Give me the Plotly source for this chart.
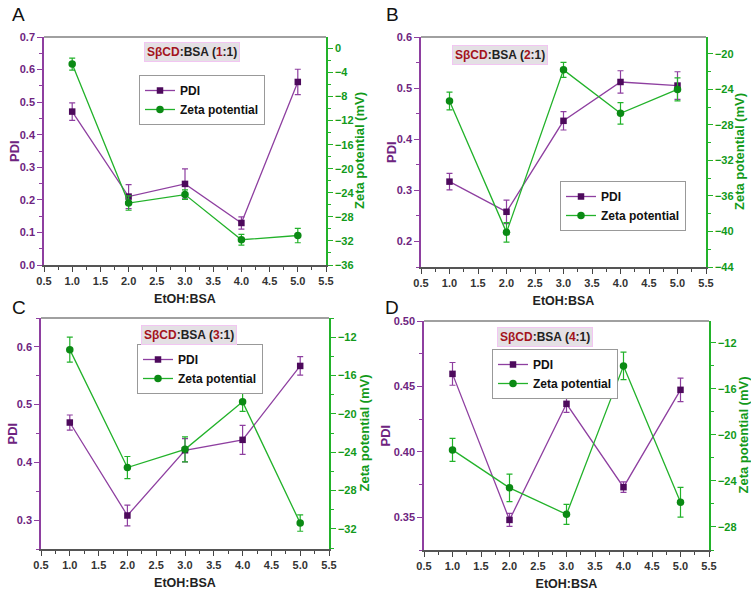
import plotly.graph_objects as go

W, H = 751, 591

x_vals = [1.0, 2.0, 3.0, 4.0, 5.0]

# Panel A  (SβCD:BSA 1:1)
pdi_A = [0.471, 0.210, 0.249, 0.129, 0.562]
pdi_err_A = [0.027, 0.037, 0.046, 0.019, 0.039]
zeta_A = [-2.6, -25.7, -24.3, -31.8, -31.1]
zeta_err_A = [1.0, 1.2, 0.8, 0.9, 1.2]

# Panel B  (SβCD:BSA 2:1)
pdi_B = [0.317, 0.258, 0.436, 0.512, 0.505]
pdi_err_B = [0.016, 0.023, 0.018, 0.022, 0.027]
zeta_B = [-25.3, -40.1, -21.8, -26.7, -24.0]
zeta_err_B = [1.0, 1.1, 0.85, 1.2, 1.3]

# Panel C  (SβCD:BSA 3:1)
pdi_C = [0.469, 0.308, 0.421, 0.439, 0.567]
pdi_err_C = [0.013, 0.018, 0.020, 0.025, 0.016]
zeta_C = [-13.3, -25.6, -23.7, -18.75, -31.4]
zeta_err_C = [1.3, 1.15, 1.3, 1.0, 0.85]

# Panel D  (SβCD:BSA 4:1)
pdi_D = [0.4596, 0.348, 0.4367, 0.373, 0.4474]
pdi_err_D = [0.0087, 0.005, 0.0066, 0.004, 0.009]
zeta_D = [-21.3, -24.6, -26.9, -14.0, -25.85]
zeta_err_D = [1.0, 1.2, 0.87, 1.2, 1.3]

panel_letters = ["A", "B", "C", "D"]
ratios = ["1", "2", "3", "4"]
x_ticks = [0.5, 1.0, 1.5, 2.0, 2.5, 3.0, 3.5, 4.0, 4.5, 5.0, 5.5]

PURPLE_LINE = "#8E3FA0"
PURPLE_MK = "#4D0A5C"
PURPLE_TXT = "#6E2480"
GREEN_LINE = "#22B22A"
GREEN_MK = "#0B8A14"
GREEN_TXT = "#129A1A"
FONT = "Liberation Sans"

# pixel boxes of the plot areas: (x0, x1, y0_top, y1_bottom)
boxes = [(44, 326, 37, 265), (421, 706, 37, 267), (41, 329, 318, 549), (424, 709, 321, 550)]
left_ranges = [[0.0, 0.7], [0.15, 0.6], [0.25, 0.65], [0.325, 0.50]]
left_dtick = [0.1, 0.1, 0.1, 0.05]
left_fmt = [".1f", ".1f", ".1f", ".2f"]
right_ranges = [[-36, 1.9], [-44, -18.1], [-34.1, -10.0], [-30.0, -10.1]]
right_tick0 = [0, -20, -12, -12]

pdi_all = [pdi_A, pdi_B, pdi_C, pdi_D]
pdi_err_all = [pdi_err_A, pdi_err_B, pdi_err_C, pdi_err_D]
zeta_all = [zeta_A, zeta_B, zeta_C, zeta_D]
zeta_err_all = [zeta_err_A, zeta_err_B, zeta_err_C, zeta_err_D]

# title box centres, legend top-left corners, y-title x centres (px)
title_pos = [(191.5, 52.5), (500.3, 54.5), (189, 334.7), (545.3, 336.7)]
legend_pos = [(139, 75), (560, 181), (137, 344), (492, 349)]
letter_pos = [(18, 15), (392, 15), (19, 307), (392, 307)]
pdi_title_x = [14, 391, 12, 385]
zeta_title_x = [359, 739, 364, 743]

fig = go.Figure()
layout = {}
annotations = []
shapes = []

def px(x):
    return x / W

def py(y):
    return 1 - y / H

for i in range(4):
    n = i + 1
    sx = "" if n == 1 else str(n)
    xa = "x" + sx
    ya_l = "y" + ("" if n == 1 else str(2 * n - 1))
    ya_r = "y" + str(2 * n)
    lg = "legend" + ("" if n == 1 else str(n))
    x0, x1, y0, y1 = boxes[i]

    fig.add_trace(go.Scatter(
        x=x_vals, y=pdi_all[i], name="PDI", mode="lines+markers",
        xaxis=xa, yaxis=ya_l, legend=lg,
        line=dict(color=PURPLE_LINE, width=1.3),
        marker=dict(symbol="square", size=6.5, color=PURPLE_MK),
        error_y=dict(type="data", array=pdi_err_all[i], color=PURPLE_LINE, thickness=1.2, width=3),
    ))
    fig.add_trace(go.Scatter(
        x=x_vals, y=zeta_all[i], name="Zeta potential", mode="lines+markers",
        xaxis=xa, yaxis=ya_r, legend=lg,
        line=dict(color=GREEN_LINE, width=1.3),
        marker=dict(symbol="circle", size=7.5, color=GREEN_MK),
        error_y=dict(type="data", array=zeta_err_all[i], color=GREEN_LINE, thickness=1.2, width=3),
    ))

    layout["xaxis" + sx] = dict(
        domain=[px(x0), px(x1)], anchor=ya_l, range=[0.5, 5.5], automargin=False,
        tickvals=x_ticks, tickformat=".1f", ticks="outside", ticklen=5, tickwidth=1,
        tickcolor="#444", linecolor="#555", linewidth=1.5, showline=True, mirror=False,
        showgrid=False, zeroline=False,
        minor=dict(dtick=0.25, ticklen=3, tickcolor="#444", ticks="outside", showgrid=False),
        tickfont=dict(family=FONT, size=11, color="#333", weight="bold"),
        title=dict(text="<b>EtOH:BSA</b>", font=dict(family=FONT, size=12.5, color="#222"), standoff=8),
    )
    shapes.append(dict(
        type="line", xref="paper", yref="paper", x0=px(x0), x1=px(x1), y0=py(y0), y1=py(y0),
        line=dict(color="#808080", width=1.5)))

    layout["yaxis" + ("" if n == 1 else str(2 * n - 1))] = dict(
        domain=[py(y1), py(y0)], anchor=xa, range=left_ranges[i], automargin=False,
        dtick=left_dtick[i], tick0=0, tickformat=left_fmt[i],
        ticks="outside", ticklen=5, tickcolor=PURPLE_LINE, linecolor=PURPLE_LINE, linewidth=1.5,
        showline=True, showgrid=False, zeroline=False,
        minor=dict(dtick=left_dtick[i] / 2, ticklen=3, tickcolor=PURPLE_LINE, ticks="outside", showgrid=False),
        tickfont=dict(family=FONT, size=11, color=PURPLE_TXT, weight="bold"),
    )
    layout["yaxis" + str(2 * n)] = dict(
        domain=[py(y1), py(y0)], anchor=xa, overlaying=ya_l, side="right", range=right_ranges[i],
        automargin=False, dtick=4, tick0=right_tick0[i],
        ticks="outside", ticklen=5, tickcolor=GREEN_LINE, linecolor=GREEN_LINE, linewidth=1.5,
        showline=True, showgrid=False, zeroline=False,
        minor=dict(dtick=2, ticklen=3, tickcolor=GREEN_LINE, ticks="outside", showgrid=False),
        tickfont=dict(family=FONT, size=11, color=GREEN_TXT, weight="bold"),
    )

    ymid = (y0 + y1) / 2
    annotations.append(dict(
        x=px(pdi_title_x[i]), y=py(ymid), xref="paper", yref="paper", showarrow=False,
        xanchor="center", yanchor="middle", textangle=-90,
        text="<b>PDI</b>", font=dict(family=FONT, size=13, color=PURPLE_TXT),
    ))
    annotations.append(dict(
        x=px(zeta_title_x[i]), y=py(ymid), xref="paper", yref="paper", showarrow=False,
        xanchor="center", yanchor="middle", textangle=-90,
        text="<b>Zeta potential (mV)</b>", font=dict(family=FONT, size=13, color=GREEN_TXT),
    ))

    lx, ly = legend_pos[i]
    layout[lg] = dict(
        x=px(lx), y=py(ly), xanchor="left", yanchor="top",
        bgcolor="white", bordercolor="#999", borderwidth=1,
        font=dict(family=FONT, size=12, color="#111", weight="bold"),
        tracegroupgap=0, itemwidth=30,
    )

    tx, ty = title_pos[i]
    annotations.append(dict(
        x=px(tx), y=py(ty), xref="paper", yref="paper", showarrow=False,
        xanchor="center", yanchor="middle",
        text=("<b><span style='color:#A3141C'>SβCD</span>:BSA (<span style='color:#A3141C'>"
              + ratios[i] + "</span>:1)</b>"),
        font=dict(family=FONT, size=12, color="#222"),
        bgcolor="#E4E0E4", bordercolor="#F2C6F2", borderwidth=1, borderpad=2,
    ))
    lx2, ly2 = letter_pos[i]
    annotations.append(dict(
        x=px(lx2), y=py(ly2), xref="paper", yref="paper", showarrow=False,
        xanchor="center", yanchor="middle",
        text=panel_letters[i], font=dict(family=FONT, size=19, color="#111"),
    ))

layout["annotations"] = annotations
layout["shapes"] = shapes
fig.update_layout(**layout)
fig.update_layout(
    width=W, height=H, margin=dict(l=0, r=0, t=0, b=0),
    paper_bgcolor="white", plot_bgcolor="white", showlegend=True,
)
fig.write_html("out.html")
